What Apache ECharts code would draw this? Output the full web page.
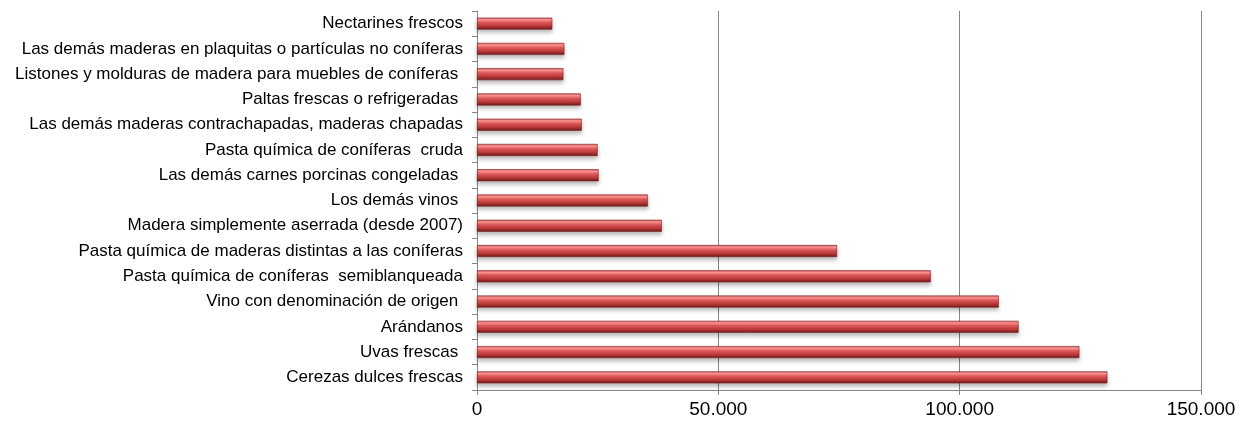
<!DOCTYPE html>
<html>
<head>
<meta charset="utf-8">
<script src="https://cdn.jsdelivr.net/npm/echarts@6/dist/echarts.min.js"></script>
<style>
html,body{margin:0;padding:0;background:#fff;}
#chart{width:1243px;height:426px;}
</style>
</head>
<body>
<div id="chart"></div>
<script>
// Categories listed bottom to top
const categories = [
  "Cerezas dulces frescas",
  "Uvas frescas ",
  "Arándanos",
  "Vino con denominación de origen ",
  "Pasta química de coníferas  semiblanqueada",
  "Pasta química de maderas distintas a las coníferas",
  "Madera simplemente aserrada (desde 2007)",
  "Los demás vinos ",
  "Las demás carnes porcinas congeladas ",
  "Pasta química de coníferas  cruda",
  "Las demás maderas contrachapadas, maderas chapadas",
  "Paltas frescas o refrigeradas ",
  "Listones y molduras de madera para muebles de coníferas ",
  "Las demás maderas en plaquitas o partículas no coníferas",
  "Nectarines frescos"
];
const values = [130600, 124800, 112200, 108100, 94000, 74600, 38300, 35400, 25200, 25000, 21700, 21500, 17900, 18100, 15600];
const xTicks = [0, 50000, 100000, 150000];

function fmt(v){ return String(v).replace(/\B(?=(\d{3})+(?!\d))/g, '.'); }

const chart = echarts.init(document.getElementById('chart'));
chart.setOption({
  animation: false,
  backgroundColor: '#ffffff',
  grid: { left: 477, right: 42, top: 11, bottom: 36, containLabel: false },
  xAxis: {
    type: 'value',
    min: xTicks[0],
    max: xTicks[xTicks.length - 1],
    interval: 50000,
    axisLine: { show: true, lineStyle: { color: '#868686', width: 1 } },
    axisTick: { show: true, length: 5, lineStyle: { color: '#868686' } },
    axisLabel: { color: '#000', fontFamily: 'Liberation Sans, Arial, sans-serif', fontSize: 19, margin: 10, formatter: fmt },
    splitLine: { show: true, lineStyle: { color: '#868686', width: 1 } }
  },
  yAxis: {
    type: 'category',
    data: categories,
    axisLine: { show: true, lineStyle: { color: '#868686', width: 1 } },
    axisTick: { show: true, length: 5, lineStyle: { color: '#868686' } },
    axisLabel: { color: '#000', fontFamily: 'Liberation Sans, Arial, sans-serif', fontSize: 17, margin: 14 }
  },
  series: [{
    type: 'bar',
    data: values,
    barWidth: 12,
    itemStyle: {
      color: new echarts.graphic.LinearGradient(0, 0, 0, 1, [
        { offset: 0, color: '#d65a5a' },
        { offset: 0.18, color: '#ff9696' },
        { offset: 0.4, color: '#e35a5a' },
        { offset: 0.7, color: '#bb3a3a' },
        { offset: 1, color: '#6a1818' }
      ]),
      borderColor: '#7a2222',
      borderWidth: 0.6,
      shadowColor: 'rgba(0,0,0,0.28)',
      shadowBlur: 4,
      shadowOffsetY: 3
    }
  }]
});
</script>
</body>
</html>
